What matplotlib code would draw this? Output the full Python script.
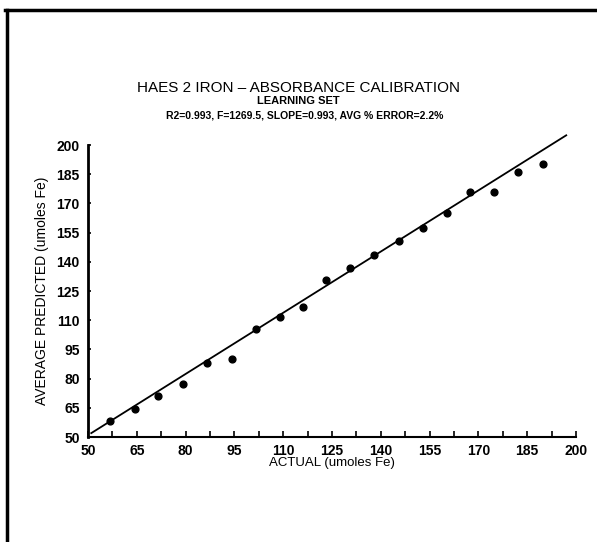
import matplotlib
matplotlib.use("Agg")
import matplotlib.pyplot as plt
from matplotlib.lines import Line2D
import numpy as np

# ==============================
# Data
# ==============================
actual = [56.8, 64.4, 71.6, 79.3, 86.7, 94.4, 101.5, 109.0, 116.2, 123.2,
          130.6, 138.0, 145.5, 152.9, 160.3, 167.3, 174.9, 182.3, 189.8]
predicted = [58.4, 64.2, 71.1, 77.1, 87.9, 90.2, 105.6, 111.8, 116.9, 130.5,
             137.0, 143.5, 150.5, 157.2, 165.2, 176.0, 175.7, 186.3, 190.2]
fit_x = [51.0, 197.0]
fit_y = [52.0, 205.0]

major_ticks = [50, 65, 80, 95, 110, 125, 140, 155, 170, 185, 200]
minor_x = np.arange(50, 200.1, 7.5)

TITLE = "HAES 2 IRON \u2013 ABSORBANCE CALIBRATION"
SUB1 = "LEARNING SET"
SUB2 = "R2=0.993, F=1269.5, SLOPE=0.993, AVG % ERROR=2.2%"

plt.rcParams["font.family"] = ["Liberation Sans", "DejaVu Sans"]

# ==============================
# Figure
# ==============================
fig = plt.figure(figsize=(5.97, 5.42), dpi=100)
ax = fig.add_axes([0.1474, 0.1937, 0.8174, 0.5387])

ax.scatter(actual, predicted, s=24, color="black", zorder=3, clip_on=False)
ax.plot(fit_x, fit_y, color="black", linewidth=1.3, clip_on=False)

ax.set_xlim(50, 200)
ax.set_ylim(50, 200)

for side in ["top", "right"]:
    ax.spines[side].set_visible(False)
ax.spines["left"].set_linewidth(2)
ax.spines["bottom"].set_linewidth(1.5)

ax.set_xticks(major_ticks)
ax.set_xticks(minor_x, minor=True)
ax.set_yticks(major_ticks)
ax.tick_params(axis="x", which="both", direction="in", length=4, width=1.2,
               labelsize=10, pad=5)
ax.tick_params(axis="y", which="both", direction="in", length=2, width=1.2,
               labelsize=10, pad=6)
for lab in ax.get_xticklabels() + ax.get_yticklabels():
    lab.set_fontweight("bold")

ax.set_xlabel("ACTUAL (umoles Fe)", fontsize=9.5, labelpad=-1)
ax.set_ylabel("AVERAGE PREDICTED (umoles Fe)", fontsize=10, labelpad=5)

fig.text(0.5, 0.838, TITLE, ha="center", va="center", fontsize=11)
fig.text(0.5, 0.813, SUB1, ha="center", va="center", fontsize=8, fontweight="bold")
fig.text(0.51, 0.787, SUB2, ha="center", va="center", fontsize=7.5, fontweight="bold")

# page border (left and top)
fig.add_artist(Line2D([0.011, 0.011], [0.0, 0.982], color="black", linewidth=2.5,
                      transform=fig.transFigure))
fig.add_artist(Line2D([0.009, 1.0], [0.982, 0.982], color="black", linewidth=2.5,
                      transform=fig.transFigure))

fig.savefig("out.png", dpi=100)
